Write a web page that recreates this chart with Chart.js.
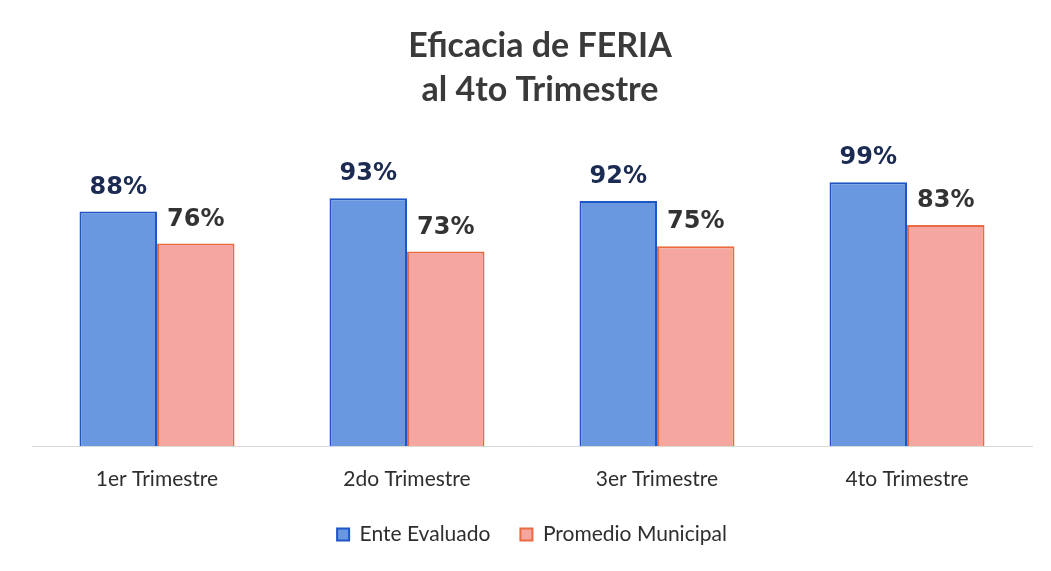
<!DOCTYPE html>
<html>
<head>
<meta charset="utf-8">
<script src="https://cdn.jsdelivr.net/npm/chart.js@4/dist/chart.umd.min.js"></script>
<style>
html,body{margin:0;padding:0;background:#fff;}
#wrap{width:1051px;height:571px;position:relative;}
</style>
</head>
<body>
<div id="wrap"><canvas id="c" width="1051" height="571"></canvas></div>
<script>
const categories = ["1er Trimestre", "2do Trimestre", "3er Trimestre", "4to Trimestre"];
const enteEvaluado = [88, 93, 92, 99];
const promedioMunicipal = [76, 73, 75, 83];
const titleLines = ["Eficacia de FERIA", "al 4to Trimestre"];

const titlePlugin = {
  id: 'titleLines',
  afterDraw(chart) {
    const ctx = chart.ctx;
    ctx.save();
    ctx.fillStyle = '#3a3a3a';
    ctx.font = 'bold 34px Lato';
    ctx.textAlign = 'center';
    ctx.textBaseline = 'alphabetic';
    ctx.fillText(titleLines[0], 540, 57);
    ctx.fillText(titleLines[1], 540, 101);
    ctx.restore();
  }
};

const labelPlugin = {
  id: 'valueLabels',
  afterDatasetsDraw(chart) {
    const ctx = chart.ctx;
    ctx.save();
    ctx.font = 'bold 24px "DejaVu Sans"';
    ctx.textAlign = 'center';
    ctx.textBaseline = 'alphabetic';
    chart.data.datasets.forEach((ds, i) => {
      const meta = chart.getDatasetMeta(i);
      ctx.fillStyle = i === 0 ? '#1b2b52' : '#333333';
      meta.data.forEach((bar, j) => {
        ctx.fillText(ds.data[j] + '%', bar.x, bar.y - 18);
      });
    });
    ctx.restore();
  }
};

new Chart(document.getElementById('c'), {
  type: 'bar',
  data: {
    labels: categories,
    datasets: [
      {
        label: 'Ente Evaluado',
        data: enteEvaluado,
        backgroundColor: '#6a98e0',
        borderColor: '#1e56c6',
        borderWidth: 2,
        borderSkipped: 'bottom'
      },
      {
        label: 'Promedio Municipal',
        data: promedioMunicipal,
        backgroundColor: '#f5a6a0',
        borderColor: '#ea6a42',
        borderWidth: 2,
        borderSkipped: 'bottom'
      }
    ]
  },
  options: {
    responsive: false,
    animation: false,
    devicePixelRatio: 1,
    layout: { padding: { top: 153, left: 32, right: 19, bottom: 16 } },
    datasets: { bar: { barPercentage: 1.0, categoryPercentage: 0.62 } },
    scales: {
      x: {
        grid: { display: false, drawTicks: false },
        border: { display: true, color: '#d9d9d9', width: 1 },
        ticks: { color: '#2e2e2e', font: { family: 'Lato', size: 21 }, padding: 21 },
        afterFit(scale) { scale.height = 48; }
      },
      y: {
        display: false,
        min: 0,
        max: 110
      }
    },
    plugins: {
      legend: {
        position: 'bottom',
        labels: {
          color: '#2e2e2e',
          font: { family: 'Lato', size: 21 },
          boxWidth: 12,
          boxHeight: 12,
          padding: 30
        }
      },
      tooltip: { enabled: false },
      title: { display: false }
    }
  },
  plugins: [titlePlugin, labelPlugin]
});
</script>
</body>
</html>
